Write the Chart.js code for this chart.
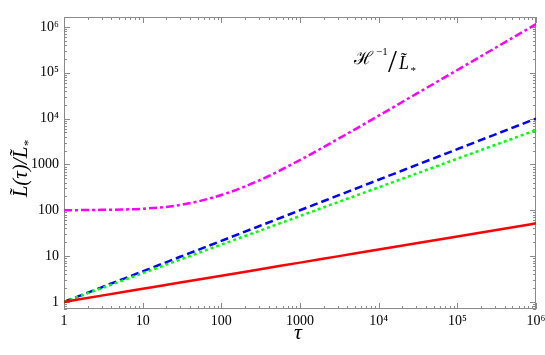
<!DOCTYPE html>
<html>
<head>
<meta charset="utf-8">
<script src="https://cdn.jsdelivr.net/npm/chart.js@4/dist/chart.umd.min.js"></script>
<style>
  html, body { margin: 0; padding: 0; background: #fff; }
  #wrap { width: 545px; height: 355px; }
</style>
</head>
<body>
<div id="wrap"><canvas id="chart"></canvas></div>
<script>
// valores
const tau = [1, 3, 10, 30, 100, 300, 1000, 3000, 1e4, 3e4, 1e5, 3e5, 1e6];
const redVals = [1, 1.37, 1.93, 2.64, 3.73, 5.1, 7.2, 9.85, 13.9, 19, 26.8, 36.7, 51.8];
const greenVals = [1, 1.99, 4.22, 8.39, 17.8, 35.3, 75, 149, 316, 628, 1334, 2650, 5620];
const blueVals = [1, 2.08, 4.64, 9.65, 21.5, 44.8, 100, 208, 464, 965, 2154, 4481, 10000];
const magentaVals = [100, 102, 108, 130, 215, 445, 1250, 3550, 11600, 34600, 115000, 345000, 1150000];

const xTickLabels = ['1', '10', '100', '1000', '10⁴', '10⁵', '10⁶'];
const yTickLabels = ['1', '10', '100', '1000', '10⁴', '10⁵', '10⁶'];

const serif = '"Liberation Serif", "DejaVu Serif", serif';

function pts(vals) {
    return tau.map((t, i) => ({ x: t, y: vals[i] }));
}

function decadeLabel(value, labels) {
    const e = Math.log10(value);
    const r = Math.round(e);
    if (Math.abs(e - r) < 1e-9 && r >= 0 && r < labels.length) return labels[r];
    return '';
}

// marco y marcas de escala por dentro (estilo Mathematica)
const framePlugin = {
    id: 'frame',
    beforeDatasetsDraw(chart) {
        const { ctx, chartArea: a, scales } = chart;
        const xs = scales.x, ys = scales.y;
        ctx.save();
        ctx.strokeStyle = '#8a8a8a';
        ctx.lineWidth = 1;
        ctx.strokeRect(a.left + 0.5, a.top + 0.5, a.right - a.left - 1, a.bottom - a.top - 1);
        ctx.beginPath();
        for (let d = 0; d <= 6; d++) {
            for (let k = 1; k <= 9; k++) {
                const v = k * Math.pow(10, d);
                if (v < xs.min || v > xs.max) continue;
                const px = Math.round(xs.getPixelForValue(v)) + 0.5;
                const len = k === 1 ? 6 : 3;
                ctx.moveTo(px, a.bottom); ctx.lineTo(px, a.bottom - len);
                ctx.moveTo(px, a.top); ctx.lineTo(px, a.top + len);
            }
        }
        for (let d = -1; d <= 6; d++) {
            for (let k = 1; k <= 9; k++) {
                const v = k * Math.pow(10, d);
                if (v < ys.min || v > ys.max) continue;
                const py = Math.round(ys.getPixelForValue(v)) + 0.5;
                const len = k === 1 ? 6 : 3;
                ctx.moveTo(a.left, py); ctx.lineTo(a.left + len, py);
                ctx.moveTo(a.right, py); ctx.lineTo(a.right - len, py);
            }
        }
        ctx.stroke();
        ctx.restore();
    },
    afterDraw(chart) {
        const { ctx } = chart;
        ctx.save();
        ctx.fillStyle = '#000';
        // título eje x
        ctx.font = 'italic 22px ' + serif;
        ctx.textAlign = 'center';
        ctx.textBaseline = 'alphabetic';
        ctx.fillText('τ', 298, 339);

        // título eje y (rotado)
        ctx.translate(27, 168);
        ctx.rotate(-Math.PI / 2);
        ctx.font = 'italic 21px ' + serif;
        ctx.textAlign = 'left';
        const main = 'L̃(τ)/L̃';
        const w = ctx.measureText(main).width;
        ctx.fillText(main, -w / 2 - 4, 0);
        ctx.font = 'italic 13px ' + serif;
        ctx.fillText('*', w / 2 - 4, 5);
        ctx.restore();

        // anotación H^-1 / L*
        ctx.save();
        ctx.fillStyle = '#000';
        ctx.textBaseline = 'alphabetic';
        ctx.font = '18px ' + serif;
        ctx.fillText('ℋ', 354, 64);
        ctx.font = '11px ' + serif;
        ctx.fillText('−1', 376, 55);
        ctx.font = '32px ' + serif;
        ctx.fillText('/', 388, 72);
        ctx.font = 'italic 18px ' + serif;
        ctx.fillText('L̃', 399, 69);
        ctx.font = 'italic 11px ' + serif;
        ctx.fillText('*', 410, 74);
        ctx.restore();
    }
};

const ctx = document.getElementById('chart').getContext('2d');
new Chart(ctx, {
    type: 'line',
    data: {
        datasets: [
            {
                label: 'red',
                data: pts(redVals),
                borderColor: '#ff0000',
                borderWidth: 2.5,
                pointRadius: 0,
                cubicInterpolationMode: 'monotone'
            },
            {
                label: 'green',
                data: pts(greenVals),
                borderColor: '#00ff00',
                borderWidth: 2.5,
                borderDash: [3, 3],
                pointRadius: 0,
                cubicInterpolationMode: 'monotone'
            },
            {
                label: 'blue',
                data: pts(blueVals),
                borderColor: '#0000ff',
                borderWidth: 2.5,
                borderDash: [8, 4],
                pointRadius: 0,
                cubicInterpolationMode: 'monotone'
            },
            {
                label: 'magenta',
                data: pts(magentaVals),
                borderColor: '#ff00ff',
                borderWidth: 2.5,
                borderDash: [8, 3, 3, 3],
                pointRadius: 0,
                cubicInterpolationMode: 'monotone'
            }
        ]
    },
    options: {
        responsive: true,
        maintainAspectRatio: false,
        animation: false,
        layout: { padding: { left: 0, right: 9, top: 17, bottom: 0 } },
        plugins: {
            legend: { display: false },
            tooltip: { enabled: false }
        },
        scales: {
            x: {
                type: 'logarithmic',
                min: 1,
                max: 1e6,
                grid: { display: false, drawTicks: false },
                border: { display: false },
                ticks: {
                    autoSkip: false,
                    maxRotation: 0,
                    padding: 4,
                    color: '#000',
                    font: { family: serif, size: 14 },
                    callback: (v) => decadeLabel(v, xTickLabels)
                },
                afterFit(scale) {
                    scale.height = 46;
                    scale.paddingLeft = 0;
                    scale.paddingRight = 0;
                }
            },
            y: {
                type: 'logarithmic',
                min: 0.74,
                max: 1.65e6,
                grid: { display: false, drawTicks: false },
                border: { display: false },
                ticks: {
                    autoSkip: false,
                    padding: 5,
                    color: '#000',
                    font: { family: serif, size: 14 },
                    callback: (v) => decadeLabel(v, yTickLabels)
                },
                afterFit(scale) {
                    scale.width = 64;
                    scale.paddingTop = 0;
                    scale.paddingBottom = 0;
                }
            }
        }
    },
    plugins: [framePlugin]
});
</script>
</body>
</html>
